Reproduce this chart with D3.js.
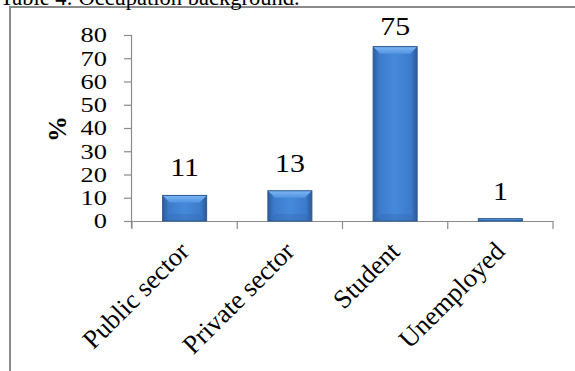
<!DOCTYPE html>
<html>
<head>
<meta charset="utf-8">
<script src="https://cdn.jsdelivr.net/npm/d3@7"></script>
<style>
  html, body { margin: 0; padding: 0; background: #fff; }
  svg { display: block; }
</style>
</head>
<body>
<script>
const title = "Table 4: Occupation background.";
const categories = ["Public sector", "Private sector", "Student", "Unemployed"];
const values = [11, 13, 75, 1];
const yTicks = [0, 10, 20, 30, 40, 50, 60, 70, 80];
const yLabel = "%";

const W = 575, H = 371;
const FONT = "'Liberation Serif', 'Times New Roman', Tinos, Times, serif";
const svg = d3.select("body").append("svg").attr("width", W).attr("height", H)
  .attr("font-family", FONT);

// gradients
const defs = svg.append("defs");
const gH = defs.append("linearGradient").attr("id", "barH").attr("x1", "0").attr("x2", "1").attr("y1", "0").attr("y2", "0");
[["0%", "#2c5c9e"], ["14%", "#3c7bcc"], ["50%", "#4689da"], ["86%", "#3c7bcc"], ["100%", "#2a5896"]]
  .forEach(([o, c]) => gH.append("stop").attr("offset", o).attr("stop-color", c));
const gT = defs.append("linearGradient").attr("id", "barT").attr("x1", "0").attr("x2", "0").attr("y1", "0").attr("y2", "1");
[["0%", "#7db7f4"], ["100%", "#5294e2"]].forEach(([o, c]) => gT.append("stop").attr("offset", o).attr("stop-color", c));

// frame and title
svg.append("rect").attr("x", 10).attr("y", 7).attr("width", 620).attr("height", 420)
  .attr("fill", "none").attr("stroke", "#8a8a8a").attr("stroke-width", 2);
svg.append("text").attr("x", 0).attr("y", 5).attr("font-size", 22.5).attr("font-family", FONT).text(title);

const x = d3.scaleBand().domain(categories).range([132, 553]).paddingInner(0).paddingOuter(0);
const y = d3.scaleLinear().domain([0, 80]).range([221, 35]);

// axes
const axisColor = "#8a8a8a";
const yAxis = svg.append("g").attr("transform", "translate(132,0)")
  .call(d3.axisLeft(y).tickValues(yTicks).tickSize(8).tickPadding(0).tickFormat(""));
const xAxis = svg.append("g").attr("transform", "translate(0,221)")
  .call(d3.axisBottom(x).tickSize(0).tickFormat(""));
svg.selectAll(".domain").attr("stroke", axisColor).attr("stroke-width", 1.2);
yAxis.select(".domain").attr("d", "M-0.5,35V228");
xAxis.select(".domain").attr("d", "M132,0.5H553");
svg.selectAll(".tick line").attr("stroke", axisColor).attr("stroke-width", 1.2);

// category boundary ticks on x axis
const bounds = categories.map(c => x(c)).concat([x(categories[categories.length - 1]) + x.bandwidth()]);
svg.append("g").selectAll("line").data(bounds).join("line")
  .attr("x1", d => d).attr("x2", d => d).attr("y1", 221).attr("y2", 229)
  .attr("stroke", axisColor).attr("stroke-width", 1.2);

// y tick labels
svg.append("g").selectAll("text").data(yTicks).join("text")
  .attr("transform", d => `translate(107,${y(d)}) scale(1.2,1)`)
  .attr("font-family", FONT)
  .attr("text-anchor", "end").attr("dy", "0.34em").attr("font-size", 22)
  .text(d => d);

// y label
svg.append("text").attr("transform", "translate(57,129) rotate(-90)")
  .attr("font-family", FONT)
  .attr("text-anchor", "middle").attr("dy", "0.34em").attr("font-size", 26).attr("font-weight", "bold")
  .text(yLabel);

// bars
const bw = 44;
const bars = svg.append("g").selectAll("g").data(values).join("g");
bars.each(function (v, i) {
  const g = d3.select(this);
  const cx = x(categories[i]) + x.bandwidth() / 2;
  const x0 = cx - bw / 2, x1 = cx + bw / 2;
  const top = y(v), bot = y(0);
  const h = bot - top;
  const b = Math.min(7, h / 2);
  g.append("rect").attr("x", x0).attr("y", top).attr("width", bw).attr("height", h)
    .attr("fill", "url(#barH)");
  g.append("polygon").attr("points", `${x0},${top} ${x1},${top} ${x1 - b},${top + b} ${x0 + b},${top + b}`)
    .attr("fill", "url(#barT)");
  g.append("polygon").attr("points", `${x0},${bot} ${x1},${bot} ${x1 - b},${bot - b} ${x0 + b},${bot - b}`)
    .attr("fill", "#2f64a8").attr("opacity", 0.3);
  g.append("rect").attr("x", x0).attr("y", top).attr("width", bw).attr("height", h)
    .attr("fill", "none").attr("stroke", "#2b5892").attr("stroke-width", 1);
});

// value labels
svg.append("g").selectAll("text").data(values).join("text")
  .attr("transform", (d, i) => `translate(${x(categories[i]) + x.bandwidth() / 2},${Math.max(35, y(d) - 19)}) scale(1.15,1)`)
  .attr("font-family", FONT)
  .attr("text-anchor", "middle").attr("font-size", 26)
  .text(d => d);

// x labels rotated
svg.append("g").selectAll("text").data(categories).join("text")
  .attr("transform", c => `translate(${x(c) + x.bandwidth() / 2 + 6},253) rotate(-45)`)
  .attr("font-family", FONT)
  .attr("text-anchor", "end").attr("font-size", 26.5)
  .text(c => c);
</script>
</body>
</html>
